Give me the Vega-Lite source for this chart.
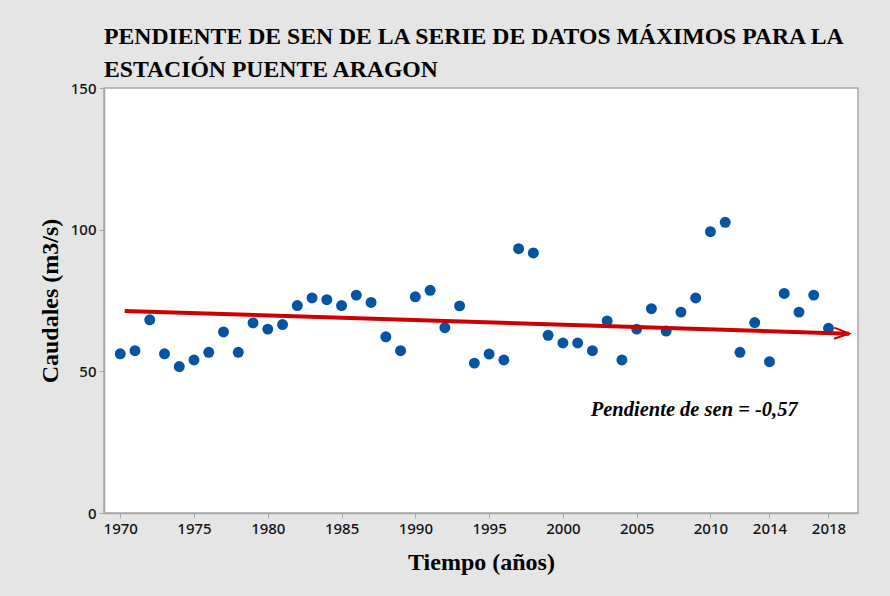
{
  "$schema": "https://vega.github.io/schema/vega-lite/v6.json",
  "autosize": {"type": "none"},
  "width": 754,
  "height": 425,
  "padding": {"left": 104, "top": 88, "right": 32, "bottom": 83},
  "background": "#e5e5e5",
  "title": {
    "text": ["PENDIENTE DE SEN DE LA SERIE DE DATOS MÁXIMOS PARA LA", "ESTACIÓN PUENTE ARAGON"],
    "anchor": "start",
    "frame": "group",
    "font": "Liberation Serif",
    "fontSize": 23.7,
    "fontWeight": "bold",
    "color": "#000000",
    "lineHeight": 33,
    "baseline": "bottom",
    "offset": 5,
    "dy": 30
  },
  "config": {
    "view": {"stroke": "#a8a8a8", "strokeWidth": 1.5, "fill": "#ffffff"},
    "axis": {
      "grid": false,
      "domainColor": "#a8a8a8",
      "domainWidth": 1.5,
      "tickColor": "#a8a8a8",
      "tickSize": 5,
      "labelFont": "Noto Sans",
      "labelFontSize": 15,
      "labelFontWeight": 500,
      "labelColor": "#111111",
      "titleFont": "Liberation Serif",
      "titleFontSize": 24,
      "titleFontWeight": "bold",
      "titleColor": "#000000"
    }
  },
  "datasets": {
    "obs": [
      {"anio": 1970, "caudal": 56.2},
      {"anio": 1971, "caudal": 57.3},
      {"anio": 1972, "caudal": 68.2},
      {"anio": 1973, "caudal": 56.2},
      {"anio": 1974, "caudal": 51.7},
      {"anio": 1975, "caudal": 54.0},
      {"anio": 1976, "caudal": 56.7},
      {"anio": 1977, "caudal": 63.9},
      {"anio": 1978, "caudal": 56.7},
      {"anio": 1979, "caudal": 67.1},
      {"anio": 1980, "caudal": 64.9},
      {"anio": 1981, "caudal": 66.5},
      {"anio": 1982, "caudal": 73.2},
      {"anio": 1983, "caudal": 75.9},
      {"anio": 1984, "caudal": 75.3},
      {"anio": 1985, "caudal": 73.2},
      {"anio": 1986, "caudal": 76.9},
      {"anio": 1987, "caudal": 74.3},
      {"anio": 1988, "caudal": 62.2},
      {"anio": 1989, "caudal": 57.3},
      {"anio": 1990, "caudal": 76.3},
      {"anio": 1991, "caudal": 78.6},
      {"anio": 1992, "caudal": 65.4},
      {"anio": 1993, "caudal": 73.1},
      {"anio": 1994, "caudal": 52.9},
      {"anio": 1995, "caudal": 56.1},
      {"anio": 1996, "caudal": 54.0},
      {"anio": 1997, "caudal": 93.3},
      {"anio": 1998, "caudal": 91.8},
      {"anio": 1999, "caudal": 62.7},
      {"anio": 2000, "caudal": 60.0},
      {"anio": 2001, "caudal": 60.0},
      {"anio": 2002, "caudal": 57.3},
      {"anio": 2003, "caudal": 67.8},
      {"anio": 2004, "caudal": 54.0},
      {"anio": 2005, "caudal": 64.9},
      {"anio": 2006, "caudal": 72.1},
      {"anio": 2007, "caudal": 64.2},
      {"anio": 2008, "caudal": 70.9},
      {"anio": 2009, "caudal": 75.9},
      {"anio": 2010, "caudal": 99.3},
      {"anio": 2011, "caudal": 102.6},
      {"anio": 2012, "caudal": 56.7},
      {"anio": 2013, "caudal": 67.2},
      {"anio": 2014, "caudal": 53.4},
      {"anio": 2015, "caudal": 77.5},
      {"anio": 2016, "caudal": 70.9},
      {"anio": 2017, "caudal": 76.9},
      {"anio": 2018, "caudal": 65.2}
    ],
    "tendencia": [
      {"anio": 1970.3, "caudal": 71.3},
      {"anio": 2019.4, "caudal": 63.3}
    ],
    "flecha": [
      {"anio": 2019.4, "caudal": 63.3}
    ],
    "nota": [
      {"anio": 2008.9, "caudal": 34.1, "texto": "Pendiente de sen = -0,57"}
    ]
  },
  "layer": [
    {
      "data": {"name": "obs"},
      "mark": {"type": "point", "shape": "circle", "filled": true, "size": 120, "color": "#0454a4", "opacity": 1},
      "encoding": {
        "x": {
          "field": "anio", "type": "quantitative",
          "scale": {"domain": [1968.9, 2020], "nice": false, "zero": false},
          "axis": {
            "values": [1970, 1975, 1980, 1985, 1990, 1995, 2000, 2005, 2010, 2014, 2018],
            "format": "d",
            "labelPadding": 3,
            "title": "Tiempo (años)",
            "titlePadding": 14
          }
        },
        "y": {
          "field": "caudal", "type": "quantitative",
          "scale": {"domain": [0, 150], "nice": false},
          "axis": {
            "values": [0, 50, 100, 150],
            "labelPadding": 3,
            "title": "Caudales (m3/s)",
            "titlePadding": 8
          }
        }
      }
    },
    {
      "data": {"name": "tendencia"},
      "mark": {"type": "line", "color": "#cc0000", "strokeWidth": 4},
      "encoding": {
        "x": {"field": "anio", "type": "quantitative"},
        "y": {"field": "caudal", "type": "quantitative"}
      }
    },
    {
      "data": {"name": "flecha"},
      "mark": {"type": "point", "shape": "M-1,-0.37L0,0L-1,0.37", "filled": false, "size": 900, "stroke": "#cc0000", "strokeWidth": 2, "angle": 1.8, "opacity": 1},
      "encoding": {
        "x": {"field": "anio", "type": "quantitative"},
        "y": {"field": "caudal", "type": "quantitative"}
      }
    },
    {
      "data": {"name": "nota"},
      "mark": {"type": "text", "font": "Liberation Serif", "fontSize": 20.5, "fontWeight": "bold", "fontStyle": "italic", "color": "#000000", "align": "center", "baseline": "alphabetic"},
      "encoding": {
        "x": {"field": "anio", "type": "quantitative"},
        "y": {"field": "caudal", "type": "quantitative"},
        "text": {"field": "texto"}
      }
    }
  ]
}
